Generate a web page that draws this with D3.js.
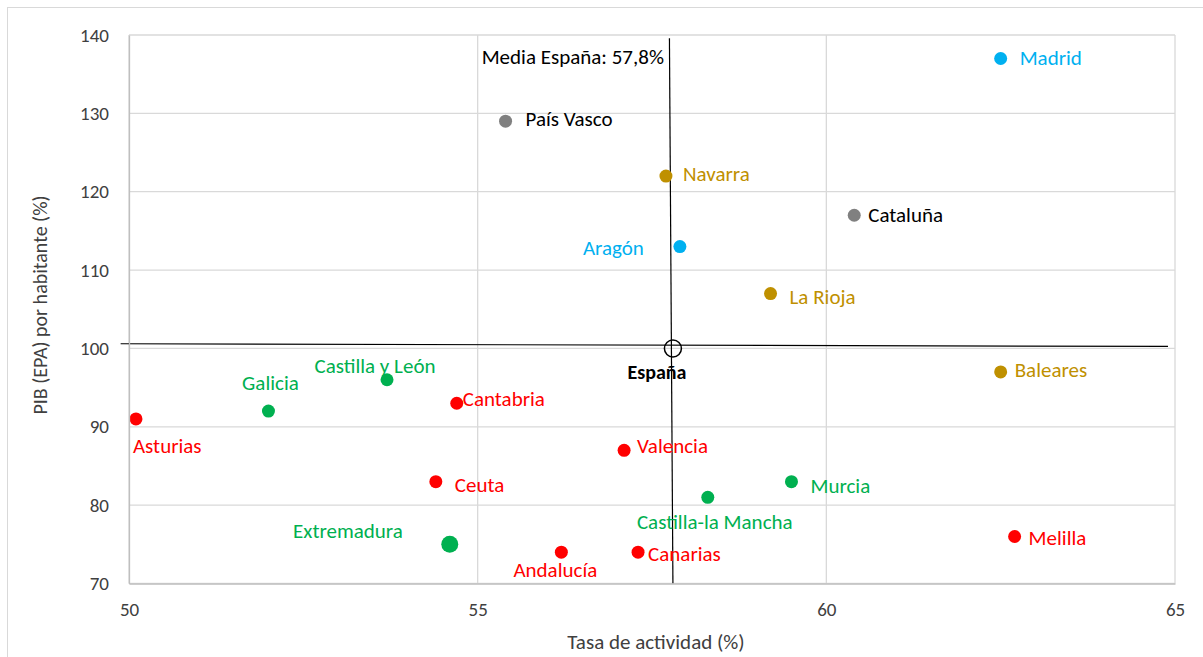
<!DOCTYPE html>
<html>
<head>
<meta charset="utf-8">
<script src="https://cdn.jsdelivr.net/npm/d3@7"></script>
<style>
  body { margin: 0; background: #fff; }
  text { font-family: Calibri, Carlito, Lato, sans-serif; }
</style>
</head>
<body>
<div class="chart"></div>
<script>
// Regions: tasa de actividad (%) vs PIB por habitante (España = 100)
const regions = ["Madrid", "País Vasco", "Navarra", "Cataluña", "Aragón", "La Rioja", "Baleares",
    "Castilla y León", "Galicia", "Asturias", "Cantabria", "Valencia", "Ceuta", "Castilla-la Mancha",
    "Murcia", "Extremadura", "Andalucía", "Canarias", "Melilla"];
const actividad = [62.5, 55.4, 57.7, 60.4, 57.9, 59.2, 62.5, 53.7, 52.0, 50.1, 54.7, 57.1, 54.4, 58.3, 59.5, 54.6, 56.2, 57.3, 62.7];
const pib = [137, 129, 122, 117, 113, 107, 97, 96, 92, 91, 93, 87, 83, 81, 83, 75, 74, 74, 76];
const grupo = ["azul", "gris", "oro", "gris", "azul", "oro", "oro", "verde", "verde", "rojo", "rojo", "rojo", "rojo", "verde", "verde", "verde", "rojo", "rojo", "rojo"];

const espana = {x: 57.8, y: 100};
const mediaLabel = "Media España: 57,8%";
// mean lines as drawn in the original (slightly tilted)
const mediaV = [[57.75, 139.6], [57.8, 70]];
const mediaH = [[49.88, 100.6], [64.9, 100.25]];

const xTicks = [50, 55, 60, 65];
const yTicks = [70, 80, 90, 100, 110, 120, 130, 140];

// colours per group
const colors = {azul: "#00b0f0", gris: "#808080", oro: "#bf9000", verde: "#00b050", rojo: "#ff0000"};
const labelColors = {azul: "#00b0f0", gris: "#000000", oro: "#bf9000", verde: "#00b050", rojo: "#ff0000"};

// label placement relative to the point (px)
const labelPos = {
    "Madrid": [19, 0, "start"], "País Vasco": [20, -1, "start"], "Navarra": [17, -1, "start"],
    "Cataluña": [14, 0, "start"], "Aragón": [-36, 2, "end"], "La Rioja": [19, 4, "start"],
    "Baleares": [14, -1, "start"], "Castilla y León": [-12, -13, "middle"], "Galicia": [2, -27, "middle"],
    "Asturias": [-3, 28, "start"], "Cantabria": [6, -4, "start"], "Valencia": [13, -4, "start"],
    "Ceuta": [19, 4, "start"], "Castilla-la Mancha": [7, 25, "middle"], "Murcia": [19, 5, "start"],
    "Extremadura": [-47, -13, "end"], "Andalucía": [-6, 19, "middle"], "Canarias": [10, 3, "start"],
    "Melilla": [14, 2, "start"]
};

const W = 1203, H = 657;
const margin = {top: 35, right: 28, bottom: 73.5, left: 129};
const labelFont = "21px";

const svg = d3.select(".chart").append("svg")
    .attr("width", W)
    .attr("height", H);

// outer chart frame
svg.append("rect")
    .attr("x", 7.5).attr("y", 7.5)
    .attr("width", 1200).attr("height", 660)
    .attr("fill", "none").attr("stroke", "#d9d9d9").attr("stroke-width", 1);

const xScale = d3.scaleLinear().domain([50, 65]).range([margin.left, W - margin.right]);
const yScale = d3.scaleLinear().domain([70, 140]).range([H - margin.bottom, margin.top]);

const g = svg.append("g");

// grid
g.selectAll(".vgrid").data(xTicks).join("line")
    .attr("x1", d => xScale(d)).attr("x2", d => xScale(d))
    .attr("y1", yScale(140)).attr("y2", yScale(70))
    .attr("stroke", "#d9d9d9").attr("stroke-width", 1.3);
g.selectAll(".hgrid").data(yTicks).join("line")
    .attr("x1", xScale(50)).attr("x2", xScale(65))
    .attr("y1", d => yScale(d)).attr("y2", d => yScale(d))
    .attr("stroke", "#d9d9d9").attr("stroke-width", 1.3);

// axes (ticks hidden, labels only)
const xAxis = svg.append("g")
    .attr("transform", `translate(0,${yScale(70)})`)
    .call(d3.axisBottom(xScale).tickValues(xTicks).tickSize(0).tickPadding(19));
const yAxis = svg.append("g")
    .attr("transform", `translate(${xScale(50)},0)`)
    .call(d3.axisLeft(yScale).tickValues(yTicks).tickSize(0).tickPadding(20));
[xAxis, yAxis].forEach(a => {
    a.select(".domain").attr("stroke", "#bfbfbf").attr("stroke-width", 1.3);
    a.selectAll("text").attr("fill", "#404040").style("font-size", "19px")
        .style("font-family", "Calibri, Carlito, Lato, sans-serif");
});

// mean lines
const line = d3.line().x(d => xScale(d[0])).y(d => yScale(d[1]));
g.append("path").attr("d", line(mediaV)).attr("stroke", "#000").attr("stroke-width", 1.2).attr("fill", "none");
g.append("path").attr("d", line(mediaH)).attr("stroke", "#000").attr("stroke-width", 1.2).attr("fill", "none");

g.append("text")
    .attr("x", xScale(espana.x) - 9).attr("y", yScale(137.1))
    .attr("text-anchor", "end").attr("dy", "0.3em")
    .style("font-size", labelFont).attr("fill", "#000")
    .text(mediaLabel);

// points
const pts = regions.map((name, i) => ({name, x: actividad[i], y: pib[i], grp: grupo[i]}));

g.selectAll(".pt").data(pts).join("circle")
    .attr("cx", d => xScale(d.x)).attr("cy", d => yScale(d.y))
    .attr("r", d => d.name === "Extremadura" ? 8.5 : 6.5)
    .attr("fill", d => colors[d.grp]);

g.selectAll(".lbl").data(pts).join("text")
    .attr("x", d => xScale(d.x) + labelPos[d.name][0])
    .attr("y", d => yScale(d.y) + labelPos[d.name][1])
    .attr("dy", "0.3em")
    .attr("text-anchor", d => labelPos[d.name][2])
    .style("font-size", labelFont)
    .attr("fill", d => labelColors[d.grp])
    .text(d => d.name);

// España
g.append("circle")
    .attr("cx", xScale(espana.x)).attr("cy", yScale(espana.y))
    .attr("r", 8.5).attr("fill", "none").attr("stroke", "#000").attr("stroke-width", 1.5);
g.append("text")
    .attr("x", xScale(espana.x) - 16).attr("y", yScale(espana.y) + 25)
    .attr("dy", "0.3em").attr("text-anchor", "middle")
    .style("font-size", "20px").style("font-weight", "bold").attr("fill", "#000")
    .text("España");

// axis titles
svg.append("text")
    .attr("x", (xScale(50) + xScale(65)) / 2 + 4).attr("y", 643)
    .attr("dy", "0.3em").attr("text-anchor", "middle")
    .style("font-size", "21px").attr("fill", "#404040")
    .text("Tasa de actividad (%)");
svg.append("text")
    .attr("transform", "translate(40,305) rotate(-90)")
    .attr("dy", "0.35em").attr("text-anchor", "middle")
    .style("font-size", "20px").attr("fill", "#404040")
    .text("PIB (EPA) por habitante (%)");
</script>
</body>
</html>
